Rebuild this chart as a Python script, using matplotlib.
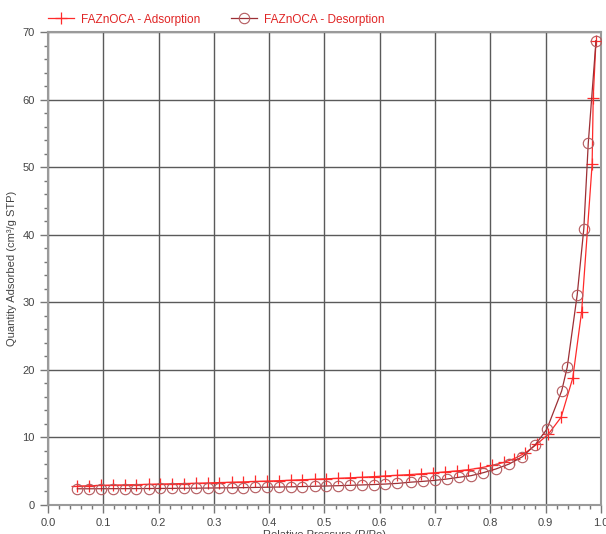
import matplotlib.pyplot as plt
from matplotlib.ticker import MultipleLocator

# Adsorption branch (P/Po, cm3/g STP)
ads_p = [0.053, 0.075, 0.096, 0.118, 0.139, 0.160, 0.182, 0.203, 0.225, 0.246,
         0.268, 0.289, 0.310, 0.332, 0.353, 0.375, 0.396, 0.418, 0.439, 0.460,
         0.482, 0.503, 0.525, 0.546, 0.568, 0.589, 0.610, 0.632, 0.653, 0.675,
         0.696, 0.718, 0.739, 0.760, 0.782, 0.803, 0.824, 0.843, 0.863, 0.884,
         0.905, 0.928, 0.949, 0.965, 0.984, 0.986, 0.991]
ads_q = [2.80, 2.85, 2.90, 2.95, 2.98, 3.02, 3.06, 3.10, 3.14, 3.18,
         3.22, 3.27, 3.32, 3.37, 3.42, 3.48, 3.54, 3.60, 3.67, 3.74,
         3.81, 3.88, 3.95, 4.03, 4.11, 4.20, 4.30, 4.40, 4.50, 4.62,
         4.75, 4.90, 5.05, 5.22, 5.50, 5.85, 6.30, 6.85, 7.70, 9.00,
         10.5, 13.0, 18.8, 28.6, 50.4, 60.3, 68.7]

# Desorption branch
des_p = [0.053, 0.075, 0.096, 0.118, 0.139, 0.160, 0.182, 0.203, 0.225, 0.246,
         0.268, 0.289, 0.310, 0.332, 0.353, 0.375, 0.396, 0.418, 0.439, 0.460,
         0.482, 0.503, 0.525, 0.546, 0.568, 0.589, 0.610, 0.632, 0.656, 0.678,
         0.700, 0.722, 0.743, 0.765, 0.787, 0.810, 0.834, 0.858, 0.881, 0.902,
         0.929, 0.939, 0.957, 0.969, 0.977, 0.991]
des_q = [2.40, 2.40, 2.41, 2.42, 2.42, 2.43, 2.44, 2.45, 2.46, 2.48,
         2.49, 2.51, 2.53, 2.55, 2.57, 2.60, 2.63, 2.66, 2.69, 2.73,
         2.77, 2.81, 2.86, 2.91, 2.97, 3.03, 3.10, 3.20, 3.38, 3.50,
         3.65, 3.85, 4.10, 4.34, 4.78, 5.33, 6.07, 7.15, 8.90, 11.2,
         16.9, 20.4, 31.1, 40.9, 53.5, 68.7]

plt.rcParams['font.family'] = ['Liberation Sans', 'DejaVu Sans']

fig = plt.figure(figsize=(6.06, 5.34), dpi=100)
ax = fig.add_axes([0.0792, 0.0543, 0.9125, 0.8858])

ax.plot(ads_p, ads_q, color='#ff2a2a', lw=0.9, marker='+', ms=8, mew=0.9,
        label='FAZnOCA - Adsorption', zorder=3)
ax.plot(des_p, des_q, color='#9c2f35', lw=0.9, marker='o', ms=7.5, mew=0.8,
        mfc='none', mec='#b35a5e', label='FAZnOCA - Desorption', zorder=4)

ax.set_xlim(0, 1.0)
ax.set_ylim(0, 70)
ax.xaxis.set_major_locator(MultipleLocator(0.1))
ax.xaxis.set_minor_locator(MultipleLocator(0.02))
ax.yaxis.set_major_locator(MultipleLocator(10))
ax.yaxis.set_minor_locator(MultipleLocator(2))
ax.xaxis.set_major_formatter(plt.FuncFormatter(lambda v, _: f'{v:.1f}'))

ax.grid(True, which='major', color='#5a5a5a', lw=1.0)
ax.set_axisbelow(True)
for s in ax.spines.values():
    s.set_color('#9a9a9a')
    s.set_linewidth(1.5)
ax.tick_params(which='major', length=6, width=1, color='#777777',
               labelsize=8, labelcolor='#444444')
ax.tick_params(which='minor', length=3, width=1, color='#777777')

ax.set_xlabel('Relative Pressure (P/Po)', fontsize=8, color='#444444', labelpad=1)
ax.set_ylabel('Quantity Adsorbed (cm³/g STP)', fontsize=8, color='#444444', labelpad=4)

fig.legend(loc='upper left', bbox_to_anchor=(0.065, 0.99), ncol=2, frameon=False,
           fontsize=8.5, labelcolor='#e02424', handlelength=2.2, handletextpad=0.6,
           columnspacing=2.6, borderaxespad=0.3)

fig.savefig('out.png', dpi=100)
